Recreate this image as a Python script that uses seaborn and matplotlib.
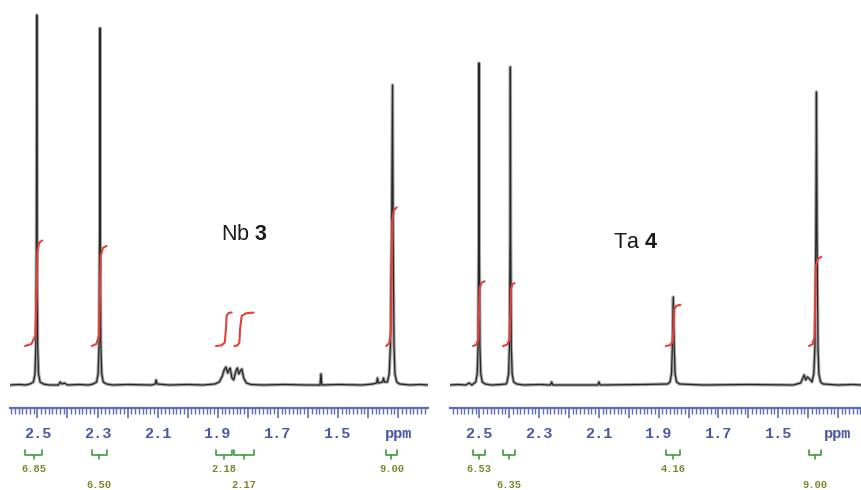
import numpy as np
import matplotlib
matplotlib.use("Agg")
import matplotlib.pyplot as plt
from matplotlib.ticker import MultipleLocator
import seaborn as sns

# 1H NMR traces: ppm and height above baseline (px)
nb_ppm = [2.591, 2.56, 2.54, 2.525, 2.513, 2.508, 2.505, 2.503, 2.502, 2.501, 2.499,
          2.496, 2.491, 2.48, 2.46, 2.43, 2.424, 2.418, 2.41, 2.40, 2.36, 2.33, 2.315,
          2.303, 2.298, 2.295, 2.293, 2.292, 2.291, 2.289, 2.286, 2.281, 2.27, 2.25,
          2.20, 2.12, 2.108, 2.105, 2.102, 2.06, 2.00, 1.95, 1.91, 1.895, 1.885, 1.879,
          1.873, 1.867, 1.863, 1.859, 1.853, 1.847, 1.841, 1.835, 1.830, 1.825, 1.820,
          1.814, 1.805, 1.79, 1.75, 1.68, 1.60, 1.56, 1.557, 1.554, 1.50, 1.42, 1.385,
          1.372, 1.369, 1.366, 1.352, 1.349, 1.346, 1.336, 1.330, 1.326, 1.322, 1.319,
          1.317, 1.314, 1.311, 1.305, 1.295, 1.26, 1.23, 1.201]
nb_int = [1, 1.5, 1, 2, 4, 12, 40, 150, 371, 150, 40,
          12, 4, 2, 1, 1, 4, 2, 3, 1, 1.5, 1, 2,
          4, 12, 40, 150, 358, 150, 40, 12, 4, 2, 1,
          1.5, 1, 2, 6, 2, 1, 1.5, 1, 2, 4, 10, 16,
          19, 13, 16, 18, 8, 6, 14, 18, 12, 15, 17,
          8, 3, 1.5, 1, 1.5, 1, 1, 12, 1, 1.5, 1, 2,
          3, 8, 3, 4, 8, 4, 4, 12, 40, 150, 301,
          150, 40, 12, 4, 2, 1, 1.5, 1]

ta_ppm = [2.598, 2.57, 2.545, 2.534, 2.525, 2.512, 2.507, 2.504, 2.502, 2.501, 2.500,
          2.498, 2.495, 2.490, 2.48, 2.46, 2.43, 2.41, 2.407, 2.402, 2.399, 2.397,
          2.396, 2.395, 2.393, 2.390, 2.385, 2.375, 2.35, 2.30, 2.262, 2.258, 2.254,
          2.20, 2.104, 2.100, 2.096, 1.95, 1.87, 1.862, 1.857, 1.854, 1.851, 1.848,
          1.845, 1.840, 1.83, 1.75, 1.60, 1.45, 1.425, 1.413, 1.408, 1.402, 1.392,
          1.387, 1.381, 1.377, 1.374, 1.372, 1.370, 1.367, 1.364, 1.358, 1.35, 1.30,
          1.25, 1.223]
ta_int = [1, 1.5, 1, 3, 1, 4, 12, 40, 150, 323, 150,
          40, 12, 4, 2, 1, 1.5, 2, 4, 12, 40, 150,
          319, 150, 40, 12, 4, 2, 1, 1.5, 1, 4, 1,
          1, 1, 4, 1, 1.5, 2, 4, 12, 40, 89, 40,
          12, 4, 2, 1, 1.5, 1, 3, 11, 6, 9, 6,
          4, 12, 40, 150, 294, 150, 40, 12, 4, 2, 1,
          1.5, 1]

# integral regions: start, step centre, end (ppm) and integral value
nb_int_start = [2.541, 2.319, 1.906, 1.845, 1.340]
nb_int_mid = [2.502, 2.292, 1.873, 1.826, 1.322]
nb_int_end = [2.484, 2.270, 1.854, 1.781, 1.305]
nb_values = [6.85, 6.50, 2.18, 2.17, 9.00]

ta_int_start = [2.521, 2.421, 1.876, 1.397]
ta_int_mid = [2.501, 2.396, 1.850, 1.376]
ta_int_end = [2.482, 2.382, 1.827, 1.356]
ta_values = [6.53, 6.35, 4.16, 9.00]

tick_values = [2.5, 2.3, 2.1, 1.9, 1.7, 1.5, 1.3]
tick_labels = ["2.5", "2.3", "2.1", "1.9", "1.7", "1.5", "ppm"]

RULER = "#5d6cbc"
TICKLBL = "#4a58a8"
RED = "#e5403a"
GREEN = "#3f9c3f"
OLIVE = "#74882c"


def integral_curve(start, mid, end, low, rise):
    d1, d2 = start - mid, mid - end
    xs = [start, mid + 0.45 * d1, mid + 0.12 * d1, mid, mid - 0.12 * d2, mid - 0.45 * d2, end]
    fr = [0, 0.02, 0.1, 0.5, 0.9, 0.98, 1]
    return xs, [low + f * rise for f in fr]


def draw_panel(ax, ppm, inten, starts, mids, ends, values, scale, xlim, title, title_xy):
    sns.lineplot(x=ppm, y=inten, sort=False, estimator=None, color="#a8a8a8", lw=2.4, ax=ax)
    sns.lineplot(x=ppm, y=inten, sort=False, estimator=None, color="#262626", lw=0.9, ax=ax)

    # integral traces and brackets with values underneath
    for i, (s, m, e, v) in enumerate(zip(starts, mids, ends, values)):
        xs, ys = integral_curve(s, m, e, 40, v * scale)
        ax.plot(xs, ys, color=RED, lw=1.5, solid_capstyle="round")
        c = (s + e) / 2
        ax.plot([s, s, e, e], [-64, -69, -69, -64], color=GREEN, lw=1.2, clip_on=False)
        ax.plot([c, c], [-69, -73], color=GREEN, lw=1.2, clip_on=False)
        ax.text(c, -83 if i % 2 == 0 else -99, f"{v:.2f}", ha="center", va="center",
                color=OLIVE, fontsize=7.5, family="Liberation Mono", weight="bold", clip_on=False)

    ax.set_xlim(*xlim)
    ax.set_ylim(-22, 386)
    ax.set_xlabel("")
    ax.set_ylabel("")
    ax.set_yticks([])
    for side in ["top", "left", "right"]:
        ax.spines[side].set_visible(False)
    ax.spines["bottom"].set_color(RULER)
    ax.spines["bottom"].set_linewidth(1.6)

    label_map = dict(zip(tick_values, tick_labels))
    major = np.round(np.arange(1.3, 2.55, 0.1), 2)
    major = [t for t in major if min(xlim) <= t <= max(xlim)]
    ax.set_xticks(major, labels=[label_map.get(round(t, 1), "") for t in major],
                  fontsize=11, family="Liberation Mono", weight="bold", color=TICKLBL)
    ax.xaxis.set_minor_locator(MultipleLocator(0.0125))
    ax.tick_params(axis="x", which="both", bottom=True, direction="out")
    ax.tick_params(axis="x", which="major", length=7, width=1.2, color=RULER, pad=7)
    ax.tick_params(axis="x", which="minor", length=4, width=1.0, color=RULER)

    ax.text(title_xy[0], title_xy[1], title, ha="center", va="center",
            fontsize=15.5, color="#1a1a1a")


def main():
    sns.set_style("white")
    plt.rcParams["font.family"] = ["Liberation Sans", "DejaVu Sans"]
    plt.rcParams["mathtext.fontset"] = "custom"
    plt.rcParams["mathtext.rm"] = "Liberation Sans"
    plt.rcParams["mathtext.bf"] = "Liberation Sans:bold"

    W, H = 861, 490
    fig = plt.figure(figsize=(W / 100, H / 100), dpi=100)
    ax_nb = fig.add_axes([10 / W, 82 / H, 418 / W, 408 / H])
    ax_ta = fig.add_axes([450 / W, 82 / H, 411 / W, 408 / H])

    draw_panel(ax_nb, nb_ppm, nb_int, nb_int_start, nb_int_mid, nb_int_end, nb_values,
               15.4, (2.591, 1.201), r"Nb $\mathbf{3}$", (1.813, 151))
    draw_panel(ax_ta, ta_ppm, ta_int, ta_int_start, ta_int_mid, ta_int_end, ta_values,
               9.9, (2.598, 1.223), r"Ta $\mathbf{4}$", (1.976, 143))

    fig.savefig("out.png", dpi=100)


if __name__ == "__main__":
    main()
